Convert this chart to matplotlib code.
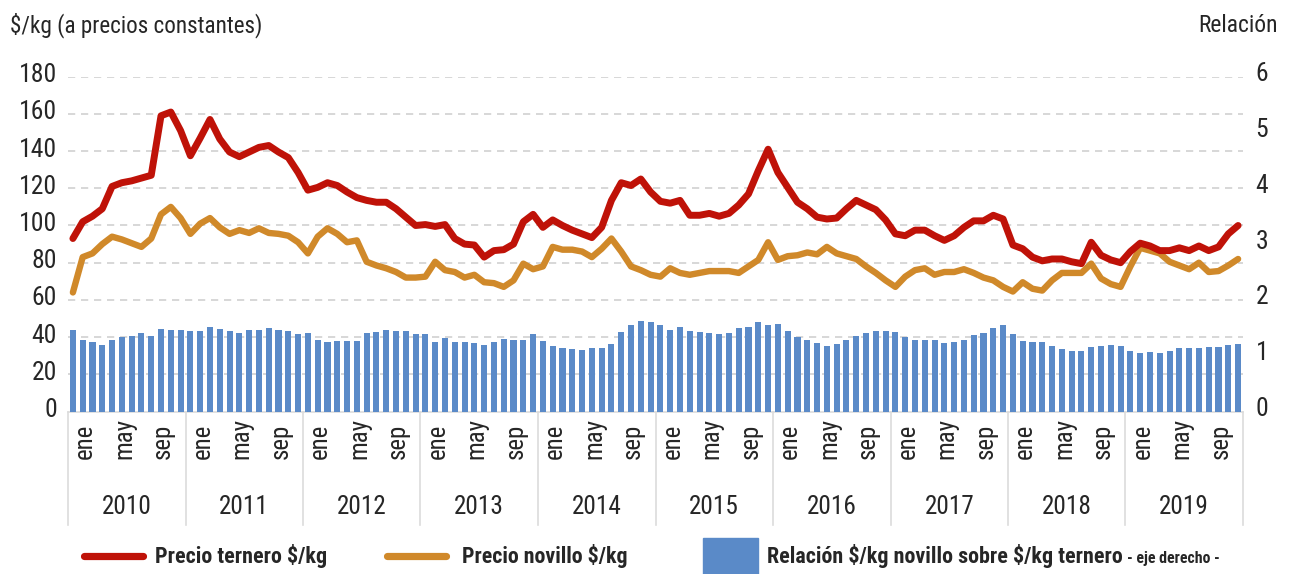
import os
import matplotlib
matplotlib.use("Agg")
import matplotlib.pyplot as plt
from matplotlib.lines import Line2D
from matplotlib.patches import Rectangle
from matplotlib.transforms import ScaledTranslation
from matplotlib import font_manager as fm
import numpy as np

# ---------------- data ----------------
years = ["2010", "2011", "2012", "2013", "2014", "2015", "2016", "2017", "2018", "2019"]
month_labels = ["ene", "may", "sep"]
month_label_idx = [0, 4, 8]

precio_ternero = [
    93, 102, 105, 109, 121, 123, 124, 125.5, 127, 159, 161, 151,
    137.5, 147, 157, 146.5, 139.5, 137, 139.5, 142, 143, 139.5, 136.5, 128.5,
    119, 120.5, 123, 121.5, 118, 115, 113.5, 112.5, 112.5, 109, 104.5, 100,
    100.5, 99.5, 100.5, 93, 90, 89.5, 83, 86.5, 87, 90, 102, 106,
    99, 103, 100, 97.5, 95.5, 93.5, 99, 113.5, 123, 121.5, 125, 118,
    113, 112, 113.5, 105.5, 105.5, 106.5, 105, 106.5, 111, 117, 129.5, 141,
    128.5, 120.5, 112.5, 109, 104.5, 103.5, 104, 109, 113.5, 111, 108.5, 103,
    95.5, 94.5, 97.5, 97.5, 94.5, 92, 94.5, 99, 102.5, 102.5, 105.5, 103.5,
    89.5, 87.5, 83, 81, 82, 82, 80.5, 79.5, 91, 84, 81.5, 80,
    86, 90.5, 89, 86.5, 86.5, 88, 86.5, 89, 86.5, 88.5, 95.5, 100,
]

precio_novillo = [
    64, 83, 85, 90, 94, 92.5, 90.5, 88.5, 93, 106, 110, 104,
    95.5, 101, 104, 99, 95.5, 97.5, 96, 98.5, 96, 95.5, 94.5, 91,
    85, 94, 98.5, 95.5, 91, 92, 80.5, 78.5, 77, 75, 72, 72,
    72.5, 80.5, 76, 75, 72, 73.5, 69.5, 69, 67, 70.5, 79.5, 76.5,
    78, 88.5, 87, 87, 86, 83, 87.5, 93, 86, 78, 76, 73.5,
    72.5, 77, 74.5, 73.5, 74.5, 75.5, 75.5, 75.5, 74.5, 78, 81.5, 91,
    81.5, 83.5, 84, 85.5, 84.5, 88.5, 85, 83.5, 82, 78, 74.5, 70.5,
    67, 72.5, 76, 77, 73.5, 75, 75, 76.5, 74.5, 72, 70.5, 67,
    64.5, 69.5, 66, 65, 70.5, 74.5, 74.5, 74.5, 79.5, 71.5, 68.5, 67,
    78, 88, 86.5, 85, 80.5, 78.5, 76.5, 80, 75, 75.5, 78.5, 82,
]

relacion = [
    1.46, 1.28, 1.25, 1.20, 1.29, 1.33, 1.36, 1.41, 1.35, 1.48, 1.46, 1.46,
    1.44, 1.45, 1.51, 1.47, 1.44, 1.40, 1.46, 1.46, 1.49, 1.46, 1.44, 1.39,
    1.40, 1.29, 1.25, 1.27, 1.27, 1.27, 1.41, 1.43, 1.46, 1.45, 1.45, 1.39,
    1.38, 1.24, 1.32, 1.24, 1.25, 1.22, 1.19, 1.24, 1.30, 1.29, 1.28, 1.38,
    1.26, 1.17, 1.14, 1.12, 1.11, 1.13, 1.14, 1.21, 1.42, 1.55, 1.63, 1.60,
    1.55, 1.46, 1.51, 1.44, 1.42, 1.40, 1.39, 1.40, 1.49, 1.51, 1.60, 1.55,
    1.56, 1.44, 1.34, 1.28, 1.23, 1.17, 1.21, 1.29, 1.36, 1.41, 1.45, 1.45,
    1.43, 1.33, 1.29, 1.28, 1.28, 1.22, 1.24, 1.28, 1.37, 1.41, 1.49, 1.55,
    1.38, 1.26, 1.25, 1.24, 1.17, 1.12, 1.09, 1.09, 1.15, 1.17, 1.19, 1.18,
    1.09, 1.05, 1.06, 1.05, 1.09, 1.13, 1.13, 1.13, 1.15, 1.16, 1.20, 1.21,
]

left_ticks = [0, 20, 40, 60, 80, 100, 120, 140, 160, 180]
right_ticks = [0, 1, 2, 3, 4, 5, 6]

# ---------------- fonts: look for a condensed family ----------------
all_files = fm.findSystemFonts()
by_base = {os.path.basename(p): p for p in all_files}
reg_cands = ["LiberationSansNarrow-Regular.ttf", "NotoSans-Condensed.ttf",
             "RobotoCondensed-Regular.ttf", "DejaVuSansCondensed.ttf",
             "NotoSans-CondensedMedium.ttf"]
bold_cands = ["LiberationSansNarrow-Bold.ttf", "NotoSans-CondensedBold.ttf",
              "RobotoCondensed-Bold.ttf", "DejaVuSansCondensed-Bold.ttf",
              "NotoSans-CondensedSemiBold.ttf"]


def pick(cands, default_weight):
    for c in cands:
        if c in by_base:
            fm.fontManager.addfont(by_base[c])
            return fm.FontProperties(fname=by_base[c])
    return fm.FontProperties(family="DejaVu Sans", weight=default_weight)


FP = pick(reg_cands, "normal")
FPB = pick(bold_cands, "bold")

RED = "#BF1208"
ORANGE = "#D0892A"
BLUE = "#5A8AC8"
GRID = "#D4D4D4"
TXT = "#262626"
SEP = "#DCDCDC"

W, H = 1294, 574
fig = plt.figure(figsize=(W / 100, H / 100), dpi=100)
renderer = fig.canvas.get_renderer()


def fit(t, target, axis="w"):
    """scale a text's font size so its rendered extent matches a target in pixels"""
    for _ in range(2):
        bb = t.get_window_extent(renderer)
        cur = bb.width if axis == "w" else bb.height
        if cur > 0:
            t.set_fontsize(t.get_fontsize() * target / cur)
    return t.get_fontsize()


def fprop(base, size):
    p = base.copy()
    p.set_size(size)
    return p


x0, x1 = 68, 1243
ytop, ybot = 76.7, 411.5
rect = [x0 / W, 1 - ybot / H, (x1 - x0) / W, (ybot - ytop) / H]
axes_h = ybot - ytop

x = np.arange(len(precio_ternero))
n = len(x)

# calibration of sizes
probe = fig.text(0, 0, "180", fontproperties=fprop(FP, 17))
tick_size = fit(probe, 38)
probe.remove()
probe = fig.text(0, 0, "may", fontproperties=fprop(FP, 16))
month_size = fit(probe, 41)
probe.remove()
probe = fig.text(0, 0, "2010", fontproperties=fprop(FP, 17))
year_size = fit(probe, 50)
probe.remove()

# base axis: left scale, grid, x labels
ax = fig.add_axes(rect)
ax.set_xlim(-0.5, n - 0.5)
ax.set_ylim(0, 180)
ax.set_yticks(left_ticks)
ax.tick_params(axis="y", length=0, pad=8, labelcolor=TXT)
for lbl in ax.get_yticklabels():
    lbl.set_fontproperties(fprop(FP, tick_size))
    lbl.set_transform(lbl.get_transform() + ScaledTranslation(0, 4 / 100, fig.dpi_scale_trans))
for v in left_ticks[1:]:
    ax.axhline(v, color=GRID, lw=1.3, ls=(0, (4, 3.2)), zorder=0)
for s in ["top", "right", "left"]:
    ax.spines[s].set_visible(False)
ax.spines["bottom"].set_color(SEP)
ax.spines["bottom"].set_linewidth(1.2)
ax.set_xticks([])

# month labels (rotated), slightly right of their month like the original
month_tr = ax.get_xaxis_transform() + ScaledTranslation(12 / 100, 0, fig.dpi_scale_trans)
for k in range(len(years)):
    for m, lab in zip(month_label_idx, month_labels):
        ax.text(12 * k + m, -(459 - ybot) / axes_h, lab, transform=month_tr,
                rotation=90, rotation_mode="anchor", ha="left", va="center",
                fontproperties=fprop(FP, month_size), color=TXT)

# year labels and separators
for k, yr in enumerate(years):
    ax.text(12 * k + 5.5, -(507 - ybot) / axes_h, yr, transform=ax.get_xaxis_transform(),
            ha="center", va="center", fontproperties=fprop(FP, year_size), color=TXT)
for k in range(len(years) + 1):
    ax.plot([12 * k - 0.5, 12 * k - 0.5], [0, -(525 - ybot) / axes_h],
            transform=ax.get_xaxis_transform(), color=SEP, lw=1.2, clip_on=False)

# bars: right axis
ax2 = ax.twinx()
ax2.set_ylim(0, 6)
ax2.set_yticks(right_ticks)
ax2.tick_params(axis="y", length=0, pad=9, labelcolor=TXT)
for lbl in ax2.get_yticklabels():
    lbl.set_fontproperties(fprop(FP, tick_size))
    lbl.set_transform(lbl.get_transform() + ScaledTranslation(0, 5 / 100, fig.dpi_scale_trans))
for s in ["top", "right", "left", "bottom"]:
    ax2.spines[s].set_visible(False)
ax2.bar(x, relacion, width=0.62, color=BLUE, zorder=2)

# lines: on top
ax3 = fig.add_axes(rect, sharex=ax, sharey=ax)
ax3.patch.set_visible(False)
ax3.axis("off")
ax3.plot(x, precio_novillo, color=ORANGE, lw=4.6, solid_joinstyle="round",
         solid_capstyle="round")
ax3.plot(x, precio_ternero, color=RED, lw=5.0, solid_joinstyle="round",
         solid_capstyle="round")

# titles
t = fig.text(10 / W, 1 - 25 / H, "$/kg (a precios constantes)", parse_math=False,
             fontproperties=fprop(FP, 17), color=TXT, ha="left", va="center")
fit(t, 252)
t = fig.text(1278 / W, 1 - 25 / H, "Relación", fontproperties=fprop(FP, 17),
             color=TXT, ha="right", va="center")
fit(t, 80)

# legend (manual)
ly = 1 - 556 / H
fig.add_artist(Line2D([84 / W, 143 / W], [ly, ly], color=RED, lw=5.2,
                      solid_capstyle="round"))
t = fig.text(155 / W, ly, "Precio ternero $/kg", parse_math=False,
             fontproperties=fprop(FPB, 16), color=TXT, ha="left", va="center")
fit(t, 172)
fig.add_artist(Line2D([387 / W, 446 / W], [ly, ly], color=ORANGE, lw=5.2,
                      solid_capstyle="round"))
t = fig.text(462 / W, ly, "Precio novillo $/kg", parse_math=False,
             fontproperties=fprop(FPB, 16), color=TXT, ha="left", va="center")
fit(t, 165)
fig.add_artist(Rectangle((703 / W, 0), 55 / W, 36 / H, transform=fig.transFigure,
                         color=BLUE))
t = fig.text(767 / W, ly, "Relación $/kg novillo sobre $/kg ternero", parse_math=False,
             fontproperties=fprop(FPB, 16), color=TXT, ha="left", va="center")
fit(t, 353)
t = fig.text(1127 / W, 1 - 558 / H, "- eje derecho -", parse_math=False,
             fontproperties=fprop(FPB, 11), color=TXT, ha="left", va="center")
fit(t, 93)

fig.savefig("out.png", dpi=100)
